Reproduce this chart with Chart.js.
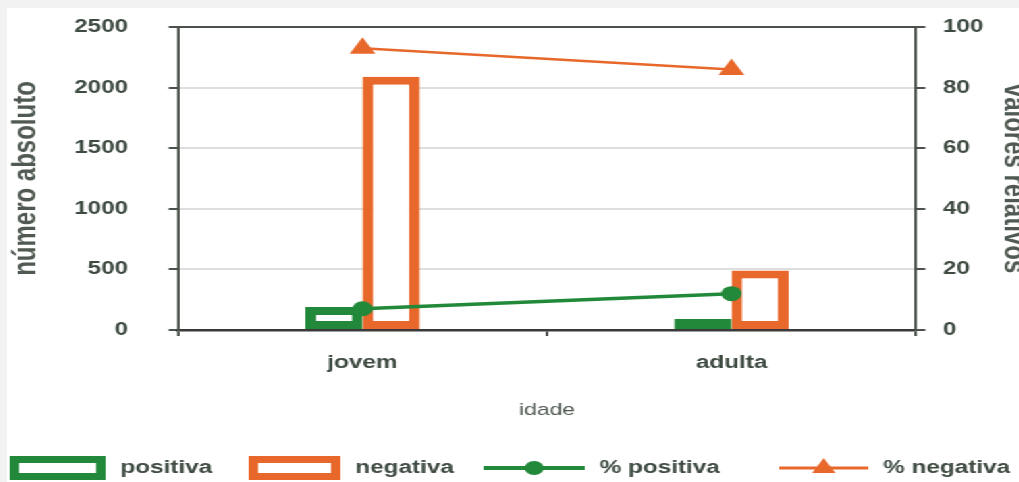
<!DOCTYPE html>
<html>
<head>
<meta charset="utf-8">
<script src="https://cdn.jsdelivr.net/npm/chart.js@4"></script>
<style>
  html, body { margin: 0; padding: 0; background: #f2f2f2; overflow: hidden; width: 1019px; height: 482px; }
  #wrap { position: absolute; left: 7px; top: 8px; width: 760px; height: 474px; background: #fff;
          transform: scaleX(1.35); transform-origin: 0 0; }
</style>
</head>
<body>
<div id="wrap"><canvas id="chart" width="760" height="474"></canvas></div>
<script>
const categories = ["jovem", "adulta"];
const positiva = [190, 90];
const negativa = [2090, 490];
const pctPositiva = [7, 12];
const pctNegativa = [93, 86];

const GREEN = "#23893a";
const ORANGE = "#e8682c";
const AXIS = "#4a524b";
const LABEL = "#3d4a40";
const TITLE = "#505a52";
const GRID = "#dedede";
const FONT = "'Liberation Sans', Arial, sans-serif";

// legend drawn on the canvas: boxes, line + marker, bold text
const bottomLegend = {
  id: "bottomLegend",
  afterDraw(chart) {
    const ctx = chart.ctx;
    const y = 460;
    const boxX = [2, 179, 353, 572];
    const textX = [84, 258, 439, 649];
    ctx.save();
    chart.data.datasets.forEach((ds, i) => {
      const x = boxX[i];
      const w = textX[i] - x - 11;
      if (ds.type === "line") {
        ctx.strokeStyle = ds.borderColor;
        ctx.lineWidth = ds.borderWidth + 0.5;
        ctx.beginPath();
        ctx.moveTo(x, y);
        ctx.lineTo(x + w, y);
        ctx.stroke();
        ctx.fillStyle = ds.pointBackgroundColor;
        ctx.beginPath();
        const cx = x + w / 2;
        if (ds.pointStyle === "triangle") {
          const r = 10;
          ctx.moveTo(cx, y - r);
          ctx.lineTo(cx + r * 0.866, y + r * 0.5);
          ctx.lineTo(cx - r * 0.866, y + r * 0.5);
          ctx.closePath();
        } else {
          ctx.arc(cx, y, 7, 0, Math.PI * 2);
        }
        ctx.fill();
      } else {
        ctx.fillStyle = "#fff";
        ctx.fillRect(x, y - 12, w, 24);
        ctx.strokeStyle = ds.borderColor;
        ctx.lineWidth = 7;
        ctx.strokeRect(x + 3.5, y - 8.5, w - 7, 17);
      }
      ctx.fillStyle = LABEL;
      ctx.font = "bold 18px " + FONT;
      ctx.textBaseline = "middle";
      ctx.textAlign = "left";
      ctx.fillText(ds.label, textX[i], y);
    });
    ctx.restore();
  }
};

// fixed scale sizes so the plot area sits where the original has it
function fixWidth(w) {
  return (scale) => {
    scale.width = w;
    scale.paddingTop = 0;
    scale.paddingBottom = 0;
  };
}

new Chart(document.getElementById("chart"), {
  data: {
    labels: categories,
    datasets: [
      {
        type: "bar",
        label: "positiva",
        data: positiva,
        yAxisID: "y",
        backgroundColor: "#ffffff",
        borderColor: GREEN,
        borderWidth: 8,
        borderSkipped: false,
        categoryPercentage: 0.31,
        barPercentage: 1,
        order: 2,
      },
      {
        type: "bar",
        label: "negativa",
        data: negativa,
        yAxisID: "y",
        backgroundColor: "#ffffff",
        borderColor: ORANGE,
        borderWidth: 8,
        borderSkipped: false,
        categoryPercentage: 0.31,
        barPercentage: 1,
        order: 2,
      },
      {
        type: "line",
        label: "% positiva",
        data: pctPositiva,
        yAxisID: "y1",
        borderColor: GREEN,
        borderWidth: 3.5,
        pointStyle: "circle",
        pointRadius: 7.5,
        pointBackgroundColor: GREEN,
        pointBorderWidth: 0,
        order: 1,
      },
      {
        type: "line",
        label: "% negativa",
        data: pctNegativa,
        yAxisID: "y1",
        borderColor: ORANGE,
        borderWidth: 2.5,
        pointStyle: "triangle",
        pointRadius: 11,
        pointBackgroundColor: ORANGE,
        pointBorderWidth: 0,
        order: 0,
      },
    ],
  },
  options: {
    responsive: false,
    animation: false,
    layout: { autoPadding: false, padding: { top: 19, bottom: 50, left: 0, right: 0 } },
    plugins: {
      legend: { display: false },
      tooltip: { enabled: false },
    },
    scales: {
      x: {
        offset: true,
        afterFit: (scale) => {
          scale.height = 102;
          scale.paddingLeft = 0;
          scale.paddingRight = 0;
        },
        grid: { offset: true, drawOnChartArea: false, tickLength: 6, tickColor: AXIS, lineWidth: 2 },
        border: { color: "#3a3a3a", width: 2.5 },
        ticks: { color: LABEL, font: { family: FONT, size: 18, weight: "bold" }, padding: 16 },
        title: {
          display: true,
          text: "idade",
          color: TITLE,
          font: { family: FONT, size: 17 },
          padding: { top: 10, bottom: 11 },
        },
      },
      y: {
        position: "left",
        min: 0,
        max: 2500,
        afterFit: fixWidth(126.7),
        ticks: {
          stepSize: 500,
          callback: (v) => String(v),
          color: LABEL,
          font: { family: FONT, size: 18, weight: "bold" },
          padding: 30,
        },
        grid: {
          color: (c) => (c.tick && (c.tick.value === 2500 || c.tick.value === 0) ? AXIS : GRID),
          lineWidth: 2,
          tickLength: 7,
          tickColor: AXIS,
        },
        border: { color: AXIS, width: 2 },
        title: {
          display: true,
          text: "número absoluto",
          color: TITLE,
          font: { family: FONT, size: 24, weight: "bold" },
          padding: { top: 0, bottom: 10 },
        },
      },
      y1: {
        position: "right",
        min: 0,
        max: 100,
        afterFit: fixWidth(86.7),
        ticks: {
          stepSize: 20,
          callback: (v) => String(v),
          color: LABEL,
          font: { family: FONT, size: 18, weight: "bold" },
          padding: 13,
        },
        grid: { drawOnChartArea: false, lineWidth: 2, tickLength: 7, tickColor: AXIS },
        border: { color: AXIS, width: 2 },
        title: {
          display: true,
          text: "valores relativos",
          color: TITLE,
          font: { family: FONT, size: 24, weight: "bold" },
          padding: { top: 0, bottom: 5 },
        },
      },
    },
  },
  plugins: [bottomLegend],
});
</script>
</body>
</html>
